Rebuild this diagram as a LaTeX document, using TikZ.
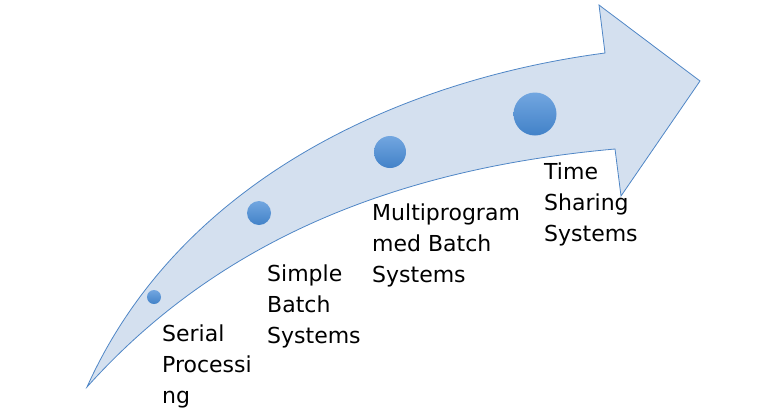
\documentclass[tikz,border=0pt]{standalone}
\usepackage{fontspec}
\setmainfont{DejaVu Sans}
\definecolor{bandfill}{HTML}{D4E0EF}
\definecolor{bandline}{HTML}{4F86C6}
\definecolor{balltop}{HTML}{72A6E0}
\definecolor{ballbot}{HTML}{4282C8}
\begin{document}
\begin{tikzpicture}[x=1pt,y=-1pt,
  ball/.style={circle,inner sep=0pt,top color=balltop,bottom color=ballbot,draw=none},
  era/.style={anchor=north west,inner sep=0pt,align=left,font=\fontsize{22}{31}\selectfont}]
  \useasboundingbox (0,0) rectangle (778,418);
  % the curved arrow
  \draw[fill=bandfill,draw=bandline,line width=.8pt,line join=miter]
    (87,387) .. controls (180,180) and (400,80) .. (605,53)
    -- (599,5) -- (700,81) -- (621,196) -- (615,149)
    .. controls (380,170) and (210,250) .. (87,387) -- cycle;
  % the stages
  \node[ball,minimum size=14pt] (serial) at (154,297) {};
  \node[ball,minimum size=24pt] (simple) at (259,213) {};
  \node[ball,minimum size=32pt] (multi) at (390,152) {};
  \node[ball,minimum size=43pt] (timeshare) at (535,114) {};
  \node[era] (serialtxt) at (162,325) {Serial\\Processi\\ng};
  \node[era] (simpletxt) at (267,265) {Simple\\Batch\\Systems};
  \node[era] (multitxt) at (372,204) {Multiprogram\\med Batch\\Systems};
  \node[era] (timetxt) at (544,163) {Time\\Sharing\\Systems};
\end{tikzpicture}
\end{document}
